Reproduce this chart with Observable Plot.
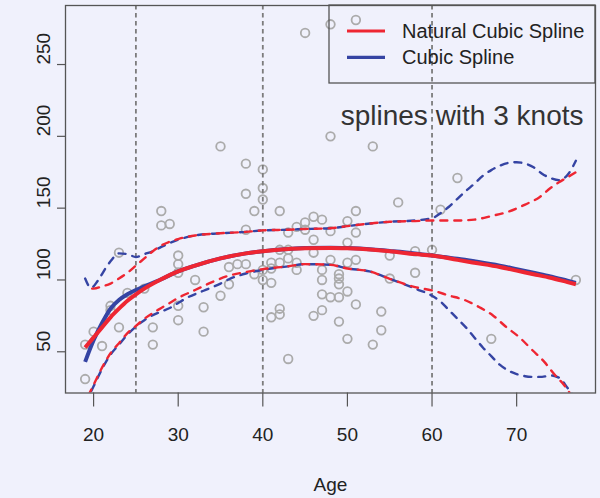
<!DOCTYPE html>
<html>
<head>
<meta charset="utf-8">
<script src="https://cdn.jsdelivr.net/npm/d3@7"></script>
<script src="https://cdn.jsdelivr.net/npm/@observablehq/plot@0.6"></script>
<style>
  html, body { margin: 0; padding: 0; background: #f0f1fc; }
  #chart { width: 600px; height: 498px; }
</style>
</head>
<body>
<div id="chart"></div>
<script>
// Wage vs. age sample
const age = [
  19, 19, 20, 21, 22, 22, 23, 23, 24, 26, 27, 27, 28, 28, 29,
  30, 30, 30, 30, 30, 32, 33, 33, 35, 35, 36, 36, 37,
  38, 38, 38, 38, 39, 39, 40, 40, 40, 40, 40,
  41, 41, 41, 41, 42, 42, 42, 42, 42, 43, 43, 43, 43,
  44, 44, 44, 45, 45, 45, 46, 46, 46, 46, 47, 47, 47, 47, 47,
  48, 48, 48, 48, 48, 49, 49, 49, 49, 49, 50, 50, 50, 50, 50,
  51, 51, 51, 51, 51, 53, 53, 54, 54, 55, 55, 56, 58, 58,
  60, 61, 63, 67, 77
];
const wage = [
  55, 31, 64, 54, 82, 79, 119, 67, 91, 94, 67, 55, 148, 138, 139,
  117, 111, 105, 82, 72, 100, 81, 64, 193, 89, 109, 97, 111,
  181, 160, 135, 111, 148, 104, 177, 164, 156, 107, 100,
  112, 108, 98, 74, 148, 121, 112, 80, 76, 133, 121, 115, 45,
  137, 112, 107, 272, 140, 135, 144, 128, 119, 75, 142, 107, 100, 90, 79,
  278, 200, 134, 114, 88, 104, 101, 97, 88, 71, 141, 126, 112, 92, 59,
  281, 148, 133, 114, 83, 193, 55, 78, 65, 117, 101, 154, 120, 105,
  121, 149, 171, 59, 100
];

// Knot locations
const knots = [25, 40, 60];

// Fitted curves (natural cubic spline and cubic spline)
const fitAge = [19, 20, 21, 22, 23, 24, 25, 26, 28, 30, 32, 35, 38, 40, 43, 45, 48, 50, 53, 55, 58, 60, 63, 65, 68, 70, 72, 74, 76, 77];
const nsFit = [53, 60, 67, 74, 80, 85.5, 90, 94, 100.5, 106, 110, 115, 118.5, 120, 121.5, 122, 122.3, 122, 121, 120, 118, 117, 114, 112, 109, 106.5, 104, 101.5, 98.5, 97];
const bsFit = [43, 58, 70, 80, 86, 90, 93, 95.5, 100.5, 106, 110, 115, 118.5, 120, 121.5, 122.2, 122.5, 122.2, 121.2, 120.2, 118.5, 117, 114.8, 113, 110, 107.5, 105, 102.5, 99.5, 98];

// Upper and lower 2-SE bands, natural cubic spline
const nsUpAge = [19, 20, 21, 22, 23, 24, 25, 26, 27, 28, 30, 32, 35, 38, 40, 43, 45, 48, 50, 53, 55, 58, 60, 63, 65, 67, 69, 71, 72.7, 74, 75, 76, 77];
const nsUp = [94, 94, 95.5, 97.5, 101, 105, 110, 115, 120, 124, 128.5, 131, 132.5, 133.5, 134.5, 135, 135.5, 136, 137.5, 139.5, 140.5, 141, 141.4, 141.4, 142, 144.5, 147.5, 152.5, 157.6, 164, 168, 171.5, 175];
const nsLoAge = [19, 20, 21, 22, 23, 24, 25, 26, 27, 28, 29, 30, 32, 34, 36, 38, 40, 43, 45, 48, 50, 52.6, 55, 58, 60, 62, 64, 65.6, 67.2, 68.7, 70.3, 71.9, 73.3, 74.4, 75.8, 77];
const nsLo = [15, 27, 39, 49, 56, 63, 68, 73, 77, 80.5, 84, 87.5, 93, 98.5, 103, 105.5, 107.5, 109.5, 111, 110.5, 108, 106, 100.8, 95, 92.7, 89.2, 85.7, 81, 75.3, 67.6, 60.2, 50.9, 42.8, 34.7, 25.4, 14];

// Upper and lower 2-SE bands, cubic spline
const bsUpAge = [19, 19.7, 20.5, 21.4, 22, 23, 24, 25, 26, 27, 28, 30, 32, 35, 38, 40, 43, 45, 48, 50, 53, 55, 58, 60, 61, 62, 63, 64, 65, 66, 67, 68, 69, 70, 71, 72, 73, 74, 75, 76, 77];
const bsUp = [101, 94.5, 99.5, 108, 113, 118.5, 118, 116, 118, 120, 123, 128, 131, 132.5, 133.5, 134.5, 135, 135.5, 136, 137.5, 139.5, 140.5, 141.5, 143, 146.5, 151, 156.5, 162, 167, 172.5, 176.5, 179.5, 181.5, 182, 181, 178.5, 174, 171, 169.5, 173, 183];
const bsLoAge = [19, 20, 21, 22, 23, 24, 25, 26, 27, 28, 29, 30, 31, 33, 35, 36, 38, 40, 43, 45, 48, 50, 52.6, 55, 58, 60, 61, 62, 63, 64, 65, 66, 67, 68, 69, 70, 71, 72, 73, 74, 75, 76, 77];
const bsLo = [14, 26, 38, 48, 55, 62, 67.5, 72, 75.5, 78, 80.5, 84, 87.5, 92.5, 97.5, 100.5, 104.5, 107, 109.5, 111, 110.5, 108, 106, 100.8, 94, 89, 85, 79, 73, 67, 60, 53, 47, 41, 37, 34.5, 33, 32.5, 32.5, 33.5, 32, 25, 17];

// Axis ticks and labels
const xTicks = [20, 30, 40, 50, 60, 70];
const yTicks = [50, 100, 150, 200, 250];
const xLabel = "Age";
const caption = "splines with 3 knots";
const legendItems = [
  {label: "Natural Cubic Spline", color: "#ee2632"},
  {label: "Cubic Spline", color: "#3544a3"}
];

const RED = legendItems[0].color;
const BLUE = legendItems[1].color;
const FONT = "'Liberation Sans', Arial, Helvetica, sans-serif";

const points = age.map((a, i) => ({age: a, wage: wage[i]}));
const series = (xs, ys) => xs.map((a, i) => ({age: a, wage: ys[i]}));

const solid = (data, color) => Plot.line(data, {
  x: "age", y: "wage", stroke: color, strokeWidth: 4,
  curve: "monotone-x", clip: true, strokeLinecap: "butt"
});
const dashed = (data, color, offset) => Plot.line(data, {
  x: "age", y: "wage", stroke: color, strokeWidth: 2.4,
  strokeDasharray: "7,7", strokeDashoffset: offset,
  curve: "monotone-x", clip: true
});

const plot = Plot.plot({
  width: 600,
  height: 498,
  marginLeft: 65,
  marginRight: 5,
  marginTop: 5,
  marginBottom: 105.5,
  style: {background: "transparent", fontFamily: FONT, color: "#222"},
  x: {domain: [16.68, 79.32]},
  y: {domain: [21.3, 291.1]},
  marks: [
    Plot.dot(points, {x: "age", y: "wage", r: 4.3, stroke: "#ababab", strokeWidth: 1.8, fill: "none"}),
    Plot.ruleX(knots, {stroke: "#7c7c7c", strokeWidth: 1.8, strokeDasharray: "4.5,3.5"}),
    solid(series(fitAge, bsFit), BLUE),
    dashed(series(bsUpAge, bsUp), BLUE, 0),
    dashed(series(bsLoAge, bsLo), BLUE, 0),
    solid(series(fitAge, nsFit), RED),
    dashed(series(nsUpAge, nsUp), RED, 7),
    dashed(series(nsLoAge, nsLo), RED, 7),
    Plot.frame({stroke: "#555", strokeWidth: 1.3}),
    Plot.axisX(xTicks, {tickSize: 14, tickPadding: 20.2, fontSize: 19, label: null, stroke: "#555", strokeWidth: 1.2}),
    Plot.axisY(yTicks, {tickSize: 8, tickFormat: () => "", label: null, stroke: "#555", strokeWidth: 1.2}),
    Plot.text(yTicks, {y: d => d, text: d => String(d), frameAnchor: "left", dx: -22, rotate: -90, fontSize: 19, fill: "#222"}),
    Plot.text([xLabel], {frameAnchor: "bottom", dy: 97.5, lineAnchor: "bottom", fontSize: 19, fill: "#222"}),
    Plot.text([caption], {frameAnchor: "top-right", dx: -12, dy: 100, textAnchor: "end", fontSize: 28, fill: "#333"})
  ]
});

// Legend box in the top-right corner of the plotting frame
const svg = d3.select(plot);
const frameRight = 600 - 5;
const frameTop = 5;
const boxW = 266, boxH = 78;
const lg = svg.append("g").attr("font-family", FONT).attr("text-anchor", "start");
lg.append("rect")
  .attr("x", frameRight - boxW).attr("y", frameTop)
  .attr("width", boxW).attr("height", boxH)
  .attr("fill", "none").attr("stroke", "#555").attr("stroke-width", 1.3);
legendItems.forEach((item, i) => {
  const cy = frameTop + 26 + i * 26.3;
  lg.append("line")
    .attr("x1", frameRight - boxW + 18).attr("x2", frameRight - boxW + 56)
    .attr("y1", cy).attr("y2", cy)
    .attr("stroke", item.color).attr("stroke-width", 3.2);
  lg.append("text")
    .attr("x", frameRight - boxW + 73).attr("y", cy + 7)
    .attr("text-anchor", "start")
    .attr("font-size", 20).attr("fill", "#222")
    .text(item.label);
});

document.getElementById("chart").appendChild(plot);
</script>
</body>
</html>
